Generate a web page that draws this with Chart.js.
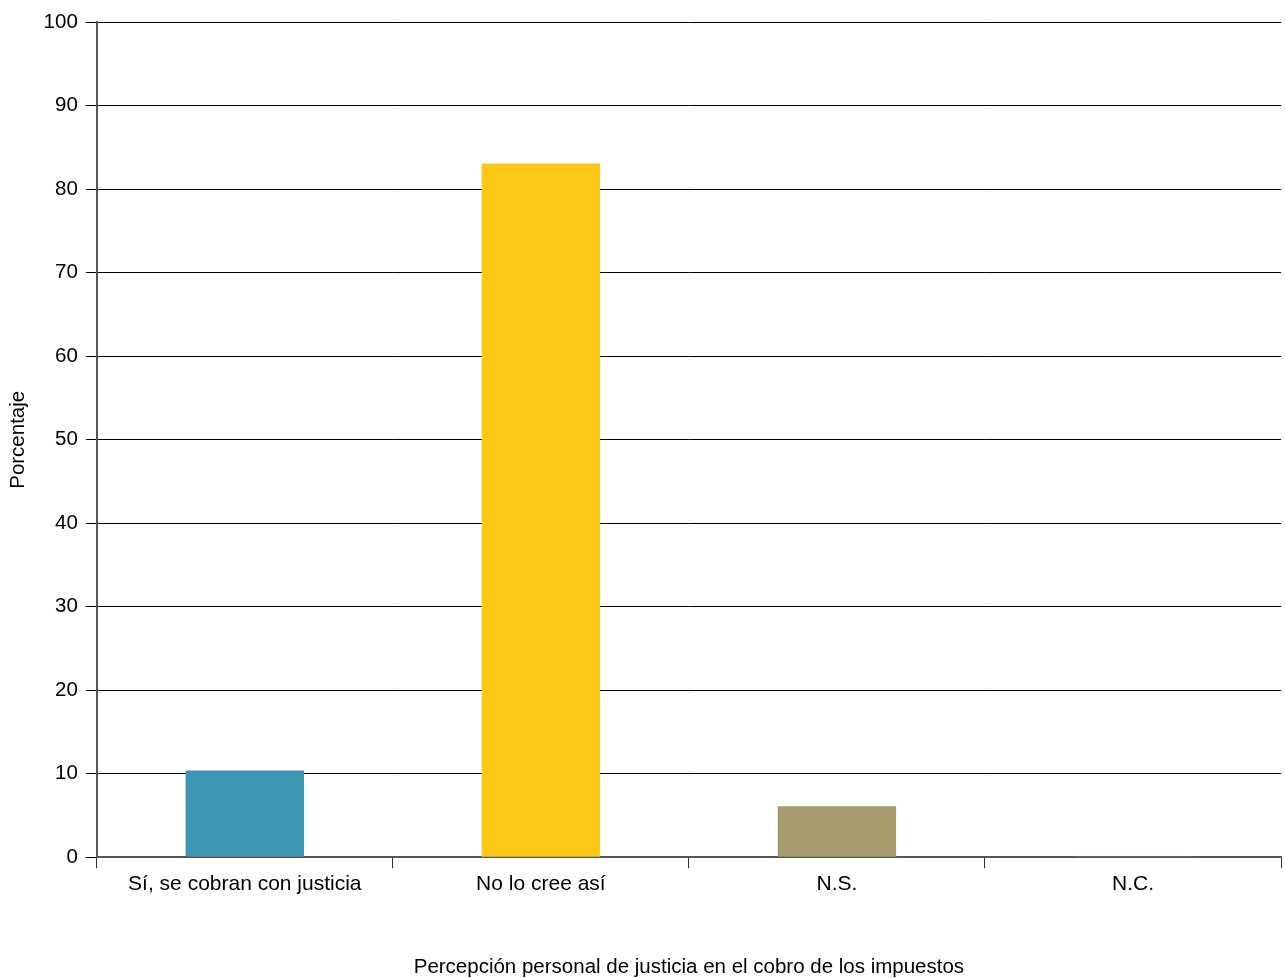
<!DOCTYPE html>
<html>
<head>
<meta charset="utf-8">
<script src="https://cdn.jsdelivr.net/npm/chart.js@4/dist/chart.umd.min.js"></script>
<style>
  html, body { margin: 0; padding: 0; background: #fff; }
  #wrap { width: 1285px; height: 978px; }
</style>
</head>
<body>
<div id="wrap"><canvas id="barChart"></canvas></div>
<script>
"use strict";

const categories = ["Sí, se cobran con justicia", "No lo cree así", "N.S.", "N.C."];
const percentages = [10.4, 83.1, 6.1, 0.1];
const barColors = ["#3d96b2", "#fcc815", "#a59a6a", "#5a7d99"];
const yTicks = [0, 10, 20, 30, 40, 50, 60, 70, 80, 90, 100];

const fontFamily = "'Liberation Sans', Arial, sans-serif";
const fontSize = 20.5;

function buildChart()
{
    new Chart("barChart", {
        type: "bar",
        data: {
            labels: categories,
            datasets: [{
                data: percentages,
                backgroundColor: barColors,
                borderWidth: 0,
                categoryPercentage: 1,
                barPercentage: 0.4
            }]
        },
        options: {
            responsive: true,
            maintainAspectRatio: false,
            animation: false,
            layout: {padding: {top: 14, right: 4, left: 6, bottom: -2}},
            plugins: {
                legend: {display: false},
                tooltip: {enabled: false}
            },
            scales: {
                x: {
                    offset: true,
                    grid: {
                        display: true,
                        drawOnChartArea: false,
                        offset: true,
                        tickLength: 11,
                        color: "#333"
                    },
                    border: {display: true, color: "#555", width: 2},
                    ticks: {
                        color: "#000",
                        padding: 3,
                        font: {family: fontFamily, size: 21}
                    },
                    title: {
                        display: true,
                        text: "Percepción personal de justicia en el cobro de los impuestos",
                        color: "#000",
                        padding: {top: 56, bottom: 0},
                        font: {family: fontFamily, size: fontSize}
                    }
                },
                y: {
                    min: 0,
                    max: 100,
                    afterBuildTicks: function(axis) {
                        axis.ticks = yTicks.map(v => ({value: v}));
                    },
                    grid: {
                        color: "#000",
                        lineWidth: 1,
                        tickLength: 11
                    },
                    border: {display: true, color: "#555", width: 2},
                    ticks: {
                        color: "#000",
                        padding: 8,
                        font: {family: fontFamily, size: fontSize, lineHeight: 1.4}
                    },
                    title: {
                        display: true,
                        text: "Porcentaje",
                        color: "#000",
                        padding: {top: 0, bottom: 5},
                        font: {family: fontFamily, size: fontSize}
                    }
                }
            }
        }
    });
}

buildChart();
</script>
</body>
</html>
